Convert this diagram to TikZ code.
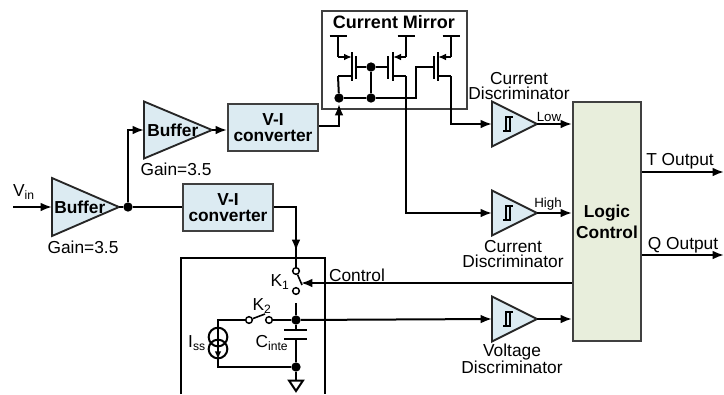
\documentclass[tikz,border=0pt]{standalone}
\usepackage{fontspec}
\setmainfont{Liberation Sans}
\usepackage{tikz}
\usetikzlibrary{arrows.meta, positioning, calc, shapes.geometric, shadows}
\tikzset{
  wire/.style={line width=1.5pt},
  fine/.style={line width=1.2pt},
  ampbuf/.style={draw=black!85, line width=1.4pt, fill=ampblue, isosceles triangle,
    isosceles triangle stretches, inner sep=0pt, outer sep=0pt},
  boldtxt/.style={font=\fontsize{13}{11.5}\selectfont\bfseries},
  vibox/.style={draw=black!75, line width=1.5pt, fill=ampblue, align=center, boldtxt,
    minimum width=67.5pt, minimum height=35.25pt, inner sep=0pt,
    drop shadow={shadow xshift=1pt, shadow yshift=-1pt, opacity=.25}},
  junct/.style={circle, fill=black, inner sep=0pt, minimum size=7pt},
  contact/.style={circle, draw=black, fill=white, line width=1.1pt, inner sep=0pt, minimum size=5pt},
  lbl/.style={inner sep=0pt, align=center},
}
\definecolor{ampblue}{HTML}{DCEBF2}
\definecolor{logicgreen}{HTML}{E8EEDC}
\begin{document}
\begin{tikzpicture}[x=0.75pt, y=-0.75pt, >={Latex[length=8.5pt,width=6.5pt]},
    font=\fontsize{13}{11.5}\selectfont]
  \useasboundingbox (0,0) rectangle (724,394);
  % current mirror frame goes first, wires run over it
  \node[draw=black!75, line width=2pt, minimum width=108.75pt, minimum height=73.5pt, inner sep=0pt] (mirror) at (394.5,60) {};
  \node[lbl, font=\fontsize{13.5}{14}\selectfont\bfseries] (mirrortxt) at (394,22) {Current Mirror};
  % transistors: channel x / gate x / source x
  \foreach \i/\cx/\gx/\sx in {1/352/356/338, 2/393/388/406, 3/438/434/451} {
    \coordinate (src\i) at (\sx,57);
    \coordinate (drn\i) at (\sx,76);
    \coordinate (gate\i) at (\gx,67);
    \draw[wire] (\sx-8.5,36) -- (\sx+8.5,36);
    \draw[wire] (\sx,36) -- (src\i);
    \draw[wire, -{Latex[length=6pt,width=5pt]}] (src\i) -- (\cx,57);
    \draw[wire] (\cx,52) -- (\cx,81);
    \draw[wire] (\gx,56) -- (\gx,79);
    \draw[wire] (\cx,76) -- (drn\i);
  }
  % input buffer
  \node[ampbuf, anchor=lower side, minimum width=43.5pt, minimum height=50.25pt] (buf1) at (52,207) {};
  \node[lbl, boldtxt, anchor=west] (buf1txt) at (54,207) {Buffer};
  \node[lbl] (gain1) at (83,247) {Gain=3.5};
  \coordinate (vin) at (13,207);
  \node[lbl] (vintxt) at (24,192) {V\textsubscript{in}};
  \draw[wire, ->] (vin) -- (buf1.lower side);
  \node[junct] (split) at (128,207) {};
  \draw[wire] (buf1.apex) -- (split);
  % upper branch
  \node[ampbuf, anchor=lower side, minimum width=42.75pt, minimum height=51pt] (buf2) at (144,130) {};
  \node[lbl, boldtxt, anchor=west] (buf2txt) at (147,130) {Buffer};
  \node[lbl] (gain2) at (176,169) {Gain=3.5};
  \draw[wire, ->] (split) |- (buf2.lower side);
  \node[vibox] (vi1) at (273,127.5) {V-I\\converter};
  \node[vibox] (vi2) at (228,207.5) {V-I\\converter};
  \draw[wire, ->] (buf2.apex) -- (vi1.west |- buf2.apex);
  \draw[wire] (split) -- (split -| vi2.west);
  % mirror wiring
  \node[junct] (mirl) at (339,98) {};
  \node[junct] (mirm) at (371,98) {};
  \node[junct] (mirg) at (371,67) {};
  \draw[wire] (gate1) -- (mirg) -- (gate2);
  \draw[wire] (mirg) -- (mirm);
  \draw[wire] (drn1) -- (mirl);
  \draw[wire] (mirl) -- (mirm) -- (416,98) -- (416,67) -- (gate3);
  \draw[wire, ->] (vi1.east |- 0,126) -- (339,126) -- (339,104);
  % comparators
  \foreach \nm/\yy in {cmpa/124, cmpb/213, cmpc/319} {
    \node[ampbuf, anchor=lower side, minimum width=33.75pt, minimum height=33.75pt] (\nm) at (492,\yy) {};
    \draw[line width=1.3pt] (503,\yy+7) -- (510,\yy+7) -- (510,\yy-7);
    \draw[line width=1.3pt] (506,\yy+7) -- (506,\yy-7) -- (513,\yy-7);
  }
  \node[lbl] (cmpatxt) at (519,86) {Current\\Discriminator};
  \node[lbl] (cmpbtxt) at (513,254) {Current\\Discriminator};
  \node[lbl] (cmpctxt) at (512,359) {Voltage\\Discriminator};
  % logic block
  \node[draw=black!75, line width=1.5pt, fill=logicgreen, minimum width=51pt, minimum height=179.25pt, inner sep=0pt,
    drop shadow={shadow xshift=1pt, shadow yshift=-1pt, opacity=.25},
    align=center, font=\fontsize{13}{16}\selectfont\bfseries] (logic) at (607,221.5) {Logic\\Control};
  \draw[wire, ->] (drn2) -- (406,213) -- (cmpb.lower side);
  \draw[wire, ->] (drn3) -- (451,124) -- (cmpa.lower side);
  \draw[wire, ->] (cmpa.apex) -- (cmpa.apex -| logic.west);
  \draw[wire, ->] (cmpb.apex) -- (cmpb.apex -| logic.west);
  \draw[wire, ->] (cmpc.apex) -- (cmpc.apex -| logic.west);
  \node[lbl, font=\fontsize{10}{10}\selectfont] (lowtxt) at (549,117) {Low};
  \node[lbl, font=\fontsize{10}{10}\selectfont] (hightxt) at (548,204) {High};
  % outputs
  \coordinate (tend) at (724,172);
  \coordinate (qend) at (724,255);
  \draw[wire, ->] (logic.east |- tend) -- (tend);
  \draw[wire, ->] (logic.east |- qend) -- (qend);
  \node[lbl] (ttxt) at (680,161) {T Output};
  \node[lbl] (qtxt) at (683,245) {Q Output};
  % integrator frame, open at the bottom of the picture
  \coordinate (fra) at (181,394);
  \coordinate (frb) at (325,394);
  \draw[line width=1.2pt] (fra) -- (181,258) -- (325,258) -- (frb);
  % K1 switch
  \node[contact] (k1a) at (296,271) {};
  \node[contact] (k1b) at (296,291) {};
  \coordinate (k1m) at (302,285);
  \draw[wire, ->] (vi2.east |- 0,207) -- (296,207) -- (296,251);
  \draw[wire] (296,248) -- (k1a);
  \draw[line width=1.2pt] (k1a) -- (k1m);
  \node[lbl] (k1txt) at (280,282) {K\textsubscript{1}};
  \draw[wire, ->] (logic.west |- 0,283) -- (301,283);
  \node[lbl] (ctrltxt) at (357,275) {Control};
  % integrating cap and K2
  \node[junct] (captop) at (296,320) {};
  \node[junct] (capbot) at (296,367) {};
  \coordinate (gndtop) at (296,380);
  \draw[wire] (296,303) -- (captop) -- (296,330);
  \draw[wire] (284,330) -- (307,330);
  \draw[wire] (284,339) -- (307,339);
  \draw[wire] (296,339) -- (capbot) -- (gndtop);
  \draw[wire] (289,380.5) -- (303,380.5) -- (296,391) -- cycle;
  \node[lbl] (captxt) at (272,343) {C\textsubscript{inte}};
  \node[contact] (k2a) at (249,320) {};
  \node[contact] (k2b) at (269,320) {};
  \draw[line width=1.2pt] (k2a) -- (265,314);
  \node[lbl] (k2txt) at (262,306) {K\textsubscript{2}};
  \draw[wire] (k2b) -- (captop);
  \draw[wire, ->] (captop) -- (cmpc.lower side);
  % current source
  \node[circle, draw=black, wire, minimum size=14pt, inner sep=0pt] (issa) at (218,337) {};
  \node[circle, draw=black, wire, minimum size=14pt, inner sep=0pt] (issb) at (218,349) {};
  \draw[line width=1.2pt] (k2a) -- (218,320) -- (issa.north);
  \draw[line width=1.2pt] (issb.south) -- (218,367) -- (capbot);
  \draw[line width=1.2pt, -{Latex[length=6pt,width=5pt]}] (issa.north) -- (issb.south);
  \node[lbl] (isstxt) at (197,343) {I\textsubscript{ss}};
\end{tikzpicture}
\end{document}
